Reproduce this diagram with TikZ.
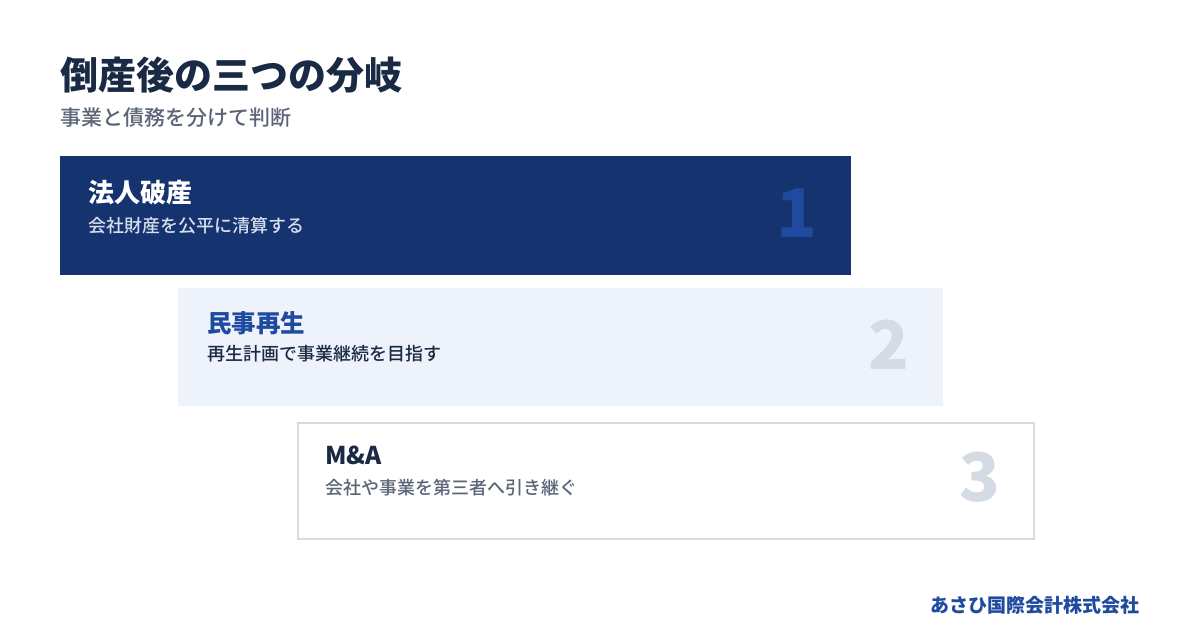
\documentclass[tikz,border=0pt]{standalone}
\usepackage{fontspec}
\setmainfont{Noto Sans CJK JP}
\IfFontExistsTF{Noto Sans CJK JP Medium}
  {\newfontfamily\mediumjp{Noto Sans CJK JP Medium}}
  {\newfontfamily\mediumjp[FakeBold=0.6]{Noto Sans CJK JP}}
\usepackage{tikz}
\usetikzlibrary{positioning}

\definecolor{navy}{HTML}{14336F}
\definecolor{accent}{HTML}{1E4AA0}
\definecolor{ink}{HTML}{1B2A44}
\definecolor{muted}{HTML}{5B6577}
\definecolor{pale}{HTML}{EEF2FA}
\definecolor{faint}{HTML}{D5DBE3}

\tikzset{
  branch/.style={rectangle, inner sep=0pt, anchor=north west},
  lbl/.style={inner sep=0pt, anchor=west},
  hd/.style={lbl, font=\fontsize{24.5}{28}\selectfont\bfseries},
  sub/.style={lbl, font=\fontsize{18}{21}\selectfont\mediumjp},
  num/.style={inner sep=0pt, font=\fontsize{67}{72}\selectfont\bfseries}
}

\begin{document}
\begin{tikzpicture}[x=1pt, y=-1pt]
  \useasboundingbox (0,0) rectangle (1200,630);
  \fill[white] (0,0) rectangle (1200,630);

  % heading
  \node (title) [lbl, text=ink, font=\fontsize{38}{42}\selectfont\bfseries] at (60,75) {倒産後の三つの分岐};
  \node (lead) [lbl, text=muted, font=\fontsize{21}{24}\selectfont\mediumjp] at (60,118) {事業と債務を分けて判断};

  % the three branches
  \node (b1) [branch, fill=navy, minimum width=791pt, minimum height=119pt] at (60,156) {};
  \node (b2) [branch, fill=pale, minimum width=765pt, minimum height=118pt] at (178,288) {};
  \node (b3) [branch, fill=white, draw=faint, line width=2pt, minimum width=736pt, minimum height=116pt] at (297,422) {};

  \node (h1) [hd, text=white, font=\fontsize{26}{30}\selectfont\bfseries] at (88,193) {法人破産};
  \node (s1) [sub, text=pale!90!navy] at (88,226) {会社財産を公平に清算する};
  \node (n1) [num, text=accent] at (797,213) {1};

  \node (h2) [hd, text=accent] at (207,323) {民事再生};
  \node (s2) [sub, text=ink] at (207,354) {再生計画で事業継続を目指す};
  \node (n2) [num, text=faint] at (889,345) {2};

  \node (h3) [hd, text=ink] at (325,455) {M\&A};
  \node (s3) [sub, text=muted] at (325,488) {会社や事業を第三者へ引き継ぐ};
  \node (n3) [num, text=faint] at (980,477) {3};

  % footer
  \node (firm) [inner sep=0pt, anchor=east, text=accent, font=\fontsize{19}{22}\selectfont\bfseries] at (1140,605) {あさひ国際会計株式会社};
\end{tikzpicture}
\end{document}
